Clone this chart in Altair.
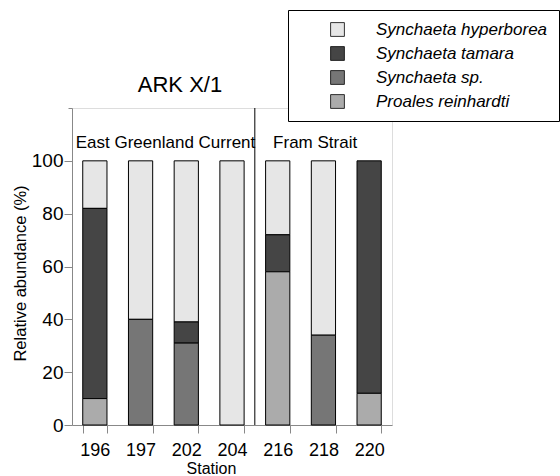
import altair as alt
import pandas as pd

stations = ["196", "197", "202", "204", "216", "218", "220"]
species = ["Synchaeta hyperborea", "Synchaeta tamara", "Synchaeta sp.", "Proales reinhardti"]
hyperborea = [18, 60, 61, 100, 28, 66, 0]
tamara = [72, 0, 8, 0, 14, 0, 88]
synchaeta_sp = [0, 40, 31, 0, 0, 34, 0]
proales = [10, 0, 0, 0, 58, 0, 12]
stack_rank = [3, 2, 1, 0]  # hyperborea on top, Proales at the bottom
colors = ["#e6e6e6", "#454545", "#767676", "#ababab"]

regions = ["East Greenland Current", "Fram Strait"]
region_start = ["196", "216"]
divider_after = ["204"]
minor_ticks = list(range(0, 121, 5))

FONT = "Liberation Sans"

rows = []
series = [hyperborea, tamara, synchaeta_sp, proales]
for sp_name, vals, rk in zip(species, series, stack_rank):
    for st, v in zip(stations, vals):
        rows.append({"station": st, "species": sp_name, "value": v, "rank": rk})
df = pd.DataFrame(rows)

xscale = alt.Scale(domain=stations, paddingInner=0.47, paddingOuter=0.235)
yscale = alt.Scale(domain=[0, 120], nice=False)

bars = alt.Chart(df).transform_filter("datum.value > 0").mark_bar(
    stroke="black", strokeWidth=1).encode(
    x=alt.X("station:N", scale=xscale, sort=stations,
            axis=alt.Axis(title="Station", labelAngle=0, tickBand="extent",
                          tickSize=8, labelFontSize=18, labelPadding=8,
                          titleFontSize=16, titleFontWeight="normal",
                          titleX=139, titleY=48, titleBaseline="alphabetic",
                          titleAnchor="start", titleAlign="center")),
    y=alt.Y("value:Q", scale=yscale, stack="zero",
            axis=alt.Axis(title="Relative abundance (%)", values=minor_ticks,
                          tickSize={"condition": {"test": "datum.value % 20 === 0 && datum.value <= 100", "value": 8}, "value": 4},
                          labelExpr="datum.value % 20 === 0 && datum.value <= 100 ? datum.label : ''",
                          labelFontSize=19, labelPadding=1, grid=False,
                          titleFontSize=16.5, titleFontWeight="normal",
                          titleX=-52, titleY=165, titleAngle=-90,
                          titleAlign="center", titleBaseline="middle")),
    color=alt.Color("species:N", scale=alt.Scale(domain=species, range=colors),
                    legend=alt.Legend(title=None, orient="none", legendX=216, legendY=-98,
                                      fillColor="white", strokeColor="black", padding=11,
                                      symbolType="square", symbolSize=190,
                                      symbolStrokeColor="black", symbolStrokeWidth=0.8,
                                      symbolOffset=30, labelOffset=30,
                                      labelFontSize=17, labelFontStyle="italic",
                                      labelFont=FONT, rowPadding=6, labelLimit=400)),
    order=alt.Order("rank:Q", sort="ascending"),
)

div_df = pd.DataFrame({"station": divider_after})
divider = alt.Chart(div_df).mark_rule(color="black", strokeWidth=1, xOffset=10.7).encode(
    x=alt.X("station:N", scale=xscale, sort=stations, bandPosition=1),
    y=alt.value(0), y2=alt.value(317),
)

reg_df = pd.DataFrame({"station": region_start, "label": regions, "y": [105, 105]})
reg1 = alt.Chart(reg_df.iloc[[0]]).mark_text(align="left", baseline="alphabetic",
                                              fontSize=17, font=FONT, dx=-7).encode(
    x=alt.X("station:N", scale=xscale, sort=stations, bandPosition=0),
    y=alt.Y("y:Q", scale=yscale), text="label:N")
reg2 = alt.Chart(reg_df.iloc[[1]]).mark_text(align="left", baseline="alphabetic",
                                             fontSize=17, font=FONT, dx=7.5).encode(
    x=alt.X("station:N", scale=xscale, sort=stations, bandPosition=0),
    y=alt.Y("y:Q", scale=yscale), text="label:N")

chart = alt.layer(bars, divider, reg1, reg2).properties(
    width=320, height=317,
    title=alt.TitleParams("ARK X/1", fontSize=22, font=FONT, fontWeight="normal",
                          anchor="middle", frame="group", dx=-52, offset=15, dy=119,
                          baseline="alphabetic"),
    autosize="none",
    padding={"left": 72, "top": 108, "right": 168, "bottom": 51},
).configure_view(stroke="black", strokeWidth=1).configure_axis(
    domainColor="black", tickColor="black", labelColor="black", titleColor="black",
    labelFont=FONT, titleFont=FONT, domainWidth=1, tickWidth=1,
).configure(background="white")

chart.save("out.html", embed_options={"renderer": "svg", "actions": False})
